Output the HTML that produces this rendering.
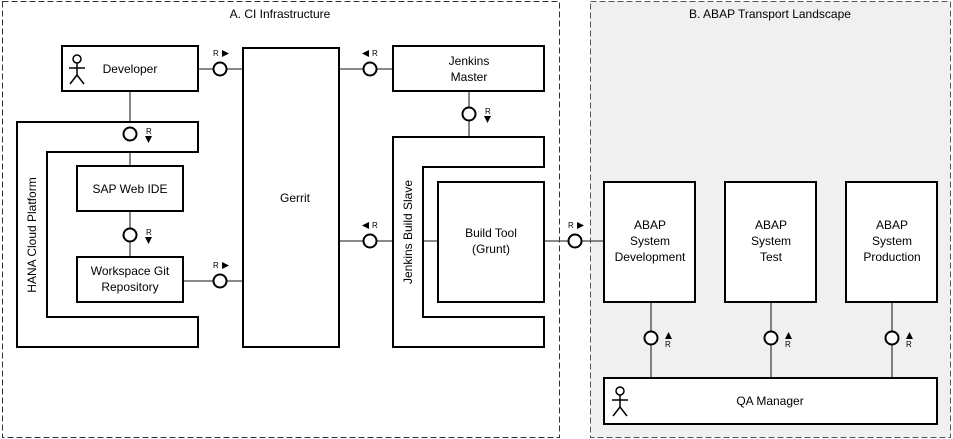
<!DOCTYPE html>
<html><head><meta charset="utf-8"><style>
html,body{margin:0;padding:0;background:#fff;}
svg{display:block;}
text{font-family:"Liberation Sans",Arial,sans-serif;font-size:12px;fill:#000;}
.s{font-size:8px;}
</style></head><body>
<svg width="953" height="439" viewBox="0 0 953 439" xmlns="http://www.w3.org/2000/svg">
<defs>
<g id="actor" stroke="#000" stroke-width="1.5" fill="none">
<circle cx="0" cy="-11" r="4" fill="#fff"/>
<line x1="0" y1="-7" x2="0" y2="5"/>
<line x1="-8" y1="-2" x2="8" y2="-2"/>
<line x1="0" y1="5" x2="-7" y2="14"/>
<line x1="0" y1="5" x2="7" y2="14"/>
</g>
</defs>
<rect x="590.5" y="1.5" width="360" height="436" fill="#f0f0f0" stroke="#555" stroke-dasharray="6,3"/>
<rect x="2.5" y="1.5" width="557" height="436" fill="none" stroke="#333" stroke-dasharray="6,3"/>
<text x="280" y="18" text-anchor="middle">A. CI Infrastructure</text>
<text x="770" y="18" text-anchor="middle">B. ABAP Transport Landscape</text>

<g stroke="#444" stroke-width="1.3">
<line x1="198" y1="69" x2="243" y2="69"/>
<line x1="339" y1="69" x2="393" y2="69"/>
<line x1="130" y1="91" x2="130" y2="166"/>
<line x1="130" y1="211" x2="130" y2="257"/>
<line x1="183" y1="281" x2="243" y2="281"/>
<line x1="469" y1="91" x2="469" y2="137"/>
<line x1="339" y1="241" x2="438" y2="241"/>
<line x1="544" y1="241" x2="604" y2="241"/>
<line x1="651" y1="302" x2="651" y2="378"/>
<line x1="771" y1="302" x2="771" y2="378"/>
<line x1="892" y1="302" x2="892" y2="378"/>
</g>

<g fill="#fff" stroke="#000" stroke-width="2">
<rect x="62" y="46" width="136" height="45"/>
<rect x="243" y="48" width="96" height="299"/>
<path d="M17 122H198V152H47V317H198V347H17Z"/>
<rect x="77" y="166" width="106" height="45"/>
<rect x="77" y="257" width="106" height="45"/>
<rect x="393" y="46" width="151" height="45"/>
<path d="M393 137H544V167H423V317H544V347H393Z"/>
<rect x="438" y="182" width="106" height="120"/>
<rect x="604" y="182" width="91" height="120"/>
<rect x="725" y="182" width="91" height="120"/>
<rect x="846" y="182" width="91" height="120"/>
<rect x="604" y="378" width="333" height="46"/>
</g>

<use href="#actor" x="77" y="70"/>
<use href="#actor" x="620" y="402"/>

<g fill="#fff" stroke="#000" stroke-width="2">
<circle cx="220" cy="69" r="6.5"/>
<circle cx="370" cy="69" r="6.5"/>
<circle cx="469" cy="114" r="6.5"/>
<circle cx="130" cy="134" r="6.5"/>
<circle cx="130" cy="235" r="6.5"/>
<circle cx="220" cy="281" r="6.5"/>
<circle cx="370" cy="241" r="6.5"/>
<circle cx="575" cy="241" r="6.5"/>
<circle cx="651" cy="338" r="6.5"/>
<circle cx="771" cy="338" r="6.5"/>
<circle cx="892" cy="338" r="6.5"/>
</g>

<g>
<text class="s" x="213" y="56">R</text><path d="M222 50L229 53.5L222 57Z"/>
<text class="s" x="213" y="268">R</text><path d="M222 262L229 265.5L222 269Z"/>
<text class="s" x="568" y="228">R</text><path d="M577 222L584 225.5L577 229Z"/>
<text class="s" x="372" y="56">R</text><path d="M369 50L362 53.5L369 57Z"/>
<text class="s" x="372" y="228">R</text><path d="M369 222L362 225.5L369 229Z"/>
<text class="s" x="146" y="134">R</text><path d="M145 136L152 136L148.5 143Z"/>
<text class="s" x="146" y="235">R</text><path d="M145 237L152 237L148.5 244Z"/>
<text class="s" x="485" y="114">R</text><path d="M484 116L491 116L487.5 123Z"/>
<path d="M665 339L672 339L668.5 332Z"/><text class="s" x="665" y="347">R</text>
<path d="M785 339L792 339L788.5 332Z"/><text class="s" x="785" y="347">R</text>
<path d="M906 339L913 339L909.5 332Z"/><text class="s" x="906" y="347">R</text>
</g>

<text x="130" y="73" text-anchor="middle">Developer</text>
<text x="295" y="202" text-anchor="middle">Gerrit</text>
<text x="130" y="193" text-anchor="middle">SAP Web IDE</text>
<text x="130" y="275" text-anchor="middle">Workspace Git</text>
<text x="130" y="291" text-anchor="middle">Repository</text>
<text x="469" y="65" text-anchor="middle">Jenkins</text>
<text x="469" y="81" text-anchor="middle">Master</text>
<text x="491" y="237" text-anchor="middle">Build Tool</text>
<text x="491" y="253" text-anchor="middle">(Grunt)</text>
<text transform="translate(36,235) rotate(-90)" text-anchor="middle">HANA Cloud Platform</text>
<text transform="translate(412,232) rotate(-90)" text-anchor="middle">Jenkins Build Slave</text>
<g text-anchor="middle">
<text x="650" y="229">ABAP</text><text x="650" y="245">System</text><text x="650" y="261">Development</text>
<text x="771" y="229">ABAP</text><text x="771" y="245">System</text><text x="771" y="261">Test</text>
<text x="892" y="229">ABAP</text><text x="892" y="245">System</text><text x="892" y="261">Production</text>
<text x="770" y="405">QA Manager</text>
</g>
</svg>
</body></html>
